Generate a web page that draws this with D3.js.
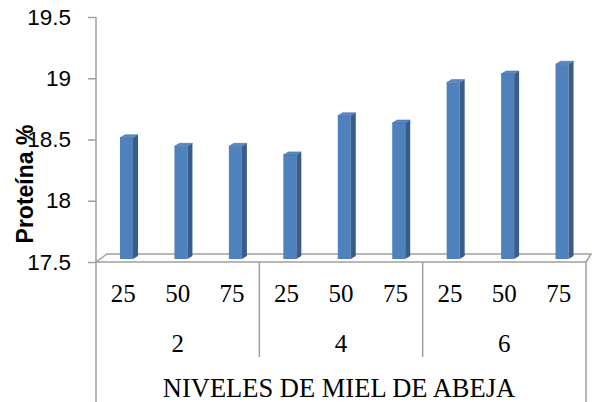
<!DOCTYPE html>
<html>
<head>
<meta charset="utf-8">
<script src="https://cdn.jsdelivr.net/npm/d3@7"></script>
<style>
  body { margin: 0; background: #fff; }
  svg { display: block; }
</style>
</head>
<body>
<div id="chart"></div>
<script>
// data
var groups = ["2", "4", "6"];                 // niveles de miel de abeja
var levels = ["25", "50", "75"];              // sub categories
var proteina = [18.49, 18.42, 18.42, 18.35, 18.67, 18.61, 18.94, 19.01, 19.09];
var yTicks = [17.5, 18, 18.5, 19, 19.5];
var yTitle = "Proteína %";
var xTitle = "NIVELES DE MIEL DE ABEJA";

function init(){
    var w = 595, h = 402;
    var left = 96, right = 586, top = 17, floorY = 262;
    var depthX = 5, depthY = 3; // bar depth
    var gridCol = "#a0a0a0";

    var svg = d3.select("#chart").append("svg")
                .attr("width", w).attr("height", h);

    // flat list of the 9 bars
    var rows = [];
    groups.forEach(function(g, gi){
        levels.forEach(function(l, li){
            rows.push({group: g, level: l, key: g + "-" + l, value: proteina[gi * 3 + li]});
        });
    });

    var x = d3.scaleBand().domain(rows.map(function(d){ return d.key; }))
              .range([left, right]).padding(0);
    var xg = d3.scaleBand().domain(groups).range([left, right]).padding(0);
    var y = d3.scaleLinear().domain([17.5, 19.5]).range([floorY, top]);

    // 3d floor
    var fl = [[left, floorY], [right, floorY], [right + 5, floorY - 8], [left + 11, floorY - 8]];
    svg.append("polygon")
       .attr("points", fl.map(function(p){ return p.join(","); }).join(" "))
       .attr("fill", "none").attr("stroke", gridCol).attr("stroke-width", 1.5);

    // y axis
    var yAxis = d3.axisLeft(y).tickValues(yTicks).tickSize(8).tickPadding(17)
                  .tickFormat(function(d){ return d; });
    var ga = svg.append("g").attr("transform", "translate(" + left + ",0)").call(yAxis);
    ga.select(".domain").remove();
    ga.selectAll("line").attr("stroke", gridCol).attr("stroke-width", 1.5);
    ga.selectAll("text").attr("fill", "#000")
      .style("font-family", "'Liberation Sans', Arial, sans-serif").style("font-size", "22.5px");
    svg.append("line").attr("x1", left).attr("x2", left).attr("y1", top).attr("y2", h)
       .attr("stroke", gridCol).attr("stroke-width", 1.5);
    svg.append("line").attr("x1", right).attr("x2", right).attr("y1", floorY).attr("y2", h)
       .attr("stroke", gridCol).attr("stroke-width", 1.5);

    // group separators
    svg.selectAll(".sep").data(groups.slice(1)).enter().append("line")
       .attr("x1", function(d){ return xg(d); }).attr("x2", function(d){ return xg(d); })
       .attr("y1", floorY).attr("y2", 357)
       .attr("stroke", gridCol).attr("stroke-width", 1.5);

    // bars
    var bw = 13, off = 24, base = floorY - 3;
    var bars = svg.selectAll(".bar").data(rows).enter().append("g");
    bars.append("rect") // front
        .attr("x", function(d){ return x(d.key) + off; })
        .attr("y", function(d){ return y(d.value) - 3; })
        .attr("width", bw)
        .attr("height", function(d){ return base - (y(d.value) - 3); })
        .attr("fill", "#4f81bd");
    bars.append("polygon") // side
        .attr("points", function(d){
            var x0 = x(d.key) + off + bw, yt = y(d.value) - 3;
            return [[x0, yt], [x0 + depthX, yt - depthY], [x0 + depthX, base - depthY], [x0, base]].join(" ");
        })
        .attr("fill", "#385d8a");
    bars.append("polygon") // top
        .attr("points", function(d){
            var x0 = x(d.key) + off, yt = y(d.value) - 3;
            return [[x0, yt], [x0 + bw, yt], [x0 + bw + depthX, yt - depthY], [x0 + depthX, yt - depthY]].join(" ");
        })
        .attr("fill", "#5a8ac6").attr("stroke", "#3d6699").attr("stroke-width", 0.5);

    // category labels
    svg.selectAll(".lvl").data(rows).enter().append("text")
       .attr("x", function(d){ return x(d.key) + x.bandwidth() / 2; })
       .attr("y", 293).attr("dy", "0.35em").attr("text-anchor", "middle")
       .style("font-family", "'Liberation Serif', 'Times New Roman', serif").style("font-size", "25px")
       .text(function(d){ return d.level; });
    svg.selectAll(".grp").data(groups).enter().append("text")
       .attr("x", function(d){ return xg(d) + xg.bandwidth() / 2; })
       .attr("y", 343).attr("dy", "0.35em").attr("text-anchor", "middle")
       .style("font-family", "'Liberation Serif', 'Times New Roman', serif").style("font-size", "25px")
       .text(function(d){ return d; });

    // axis titles
    svg.append("text").attr("x", (left + right) / 2 - 2).attr("y", 388).attr("dy", "0.35em")
       .attr("text-anchor", "middle")
       .style("font-family", "'Liberation Serif', 'Times New Roman', serif").style("font-size", "26.5px")
       .text(xTitle);
    svg.append("text").attr("transform", "translate(25,184) rotate(-90)")
       .attr("dy", "0.35em").attr("text-anchor", "middle")
       .style("font-family", "'Liberation Sans', Arial, sans-serif").style("font-size", "23px")
       .style("font-weight", "bold")
       .text(yTitle);
}
window.onload = init;
</script>
</body>
</html>
